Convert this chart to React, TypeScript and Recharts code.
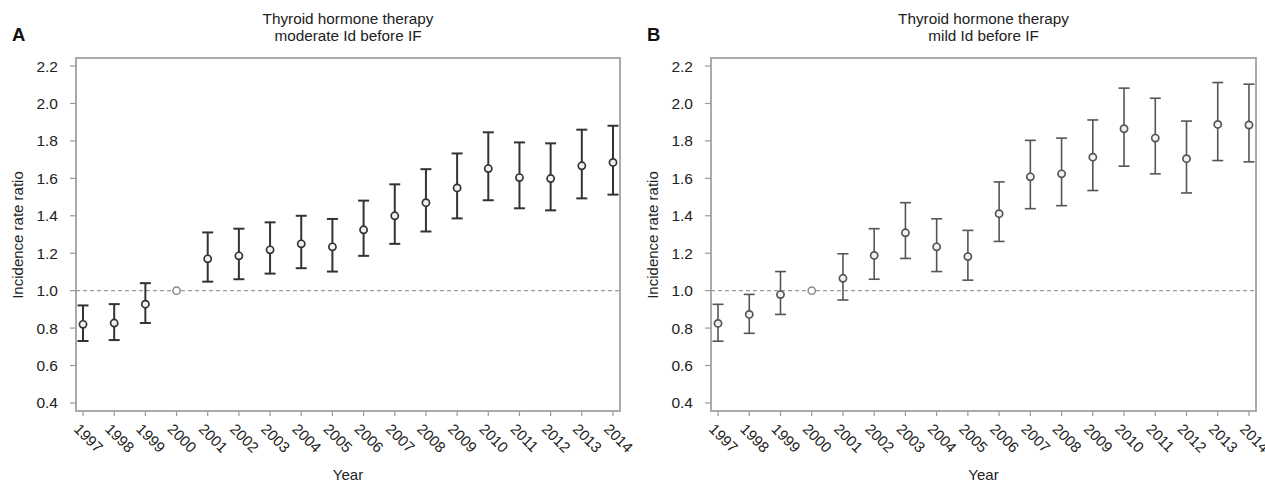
import React from 'react';
import {
  ComposedChart,
  Scatter,
  ErrorBar,
  XAxis,
  YAxis,
  ReferenceLine,
  ReferenceArea,
} from 'recharts';

const years = [1997, 1998, 1999, 2000, 2001, 2002, 2003, 2004, 2005, 2006, 2007, 2008, 2009, 2010, 2011, 2012, 2013, 2014];
const yTicks = [0.4, 0.6, 0.8, 1.0, 1.2, 1.4, 1.6, 1.8, 2.0, 2.2];
const referenceYear = 2000;

const irrA = [0.82, 0.827, 0.928, 1.0, 1.17, 1.186, 1.218, 1.25, 1.234, 1.325, 1.4, 1.47, 1.549, 1.652, 1.604, 1.599, 1.667, 1.685];
const loA = [0.731, 0.736, 0.827, null, 1.048, 1.061, 1.091, 1.12, 1.102, 1.186, 1.25, 1.316, 1.386, 1.483, 1.44, 1.429, 1.493, 1.513];
const hiA = [0.921, 0.928, 1.04, null, 1.311, 1.331, 1.365, 1.4, 1.383, 1.481, 1.568, 1.649, 1.733, 1.846, 1.792, 1.787, 1.86, 1.881];

const irrB = [0.825, 0.873, 0.979, 1.0, 1.066, 1.188, 1.309, 1.234, 1.182, 1.411, 1.608, 1.624, 1.713, 1.865, 1.815, 1.705, 1.888, 1.885];
const loB = [0.73, 0.772, 0.873, null, 0.95, 1.061, 1.172, 1.102, 1.056, 1.263, 1.438, 1.454, 1.535, 1.665, 1.624, 1.522, 1.695, 1.688];
const hiB = [0.927, 0.98, 1.102, null, 1.197, 1.331, 1.47, 1.384, 1.322, 1.581, 1.803, 1.815, 1.912, 2.082, 2.028, 1.906, 2.112, 2.103];

const titleLine1 = 'Thyroid hormone therapy';
const titleA = 'moderate Id before IF';
const titleB = 'mild Id before IF';
const yLabel = 'Incidence rate ratio';
const xLabel = 'Year';

const X_DOMAIN: [number, number] = [1996.775, 2014.225];
const Y_DOMAIN: [number, number] = [0.357, 2.243];
const FONT = '"Liberation Sans", Arial, Helvetica, sans-serif';

function build(irr: number[], lo: (number | null)[], hi: (number | null)[]) {
  const est: any[] = [];
  const ref: any[] = [];
  years.forEach((y, i) => {
    if (y === referenceYear || lo[i] == null || hi[i] == null) {
      ref.push({ year: y, irr: irr[i] });
    } else {
      est.push({ year: y, irr: irr[i], err: [irr[i] - (lo[i] as number), (hi[i] as number) - irr[i]] });
    }
  });
  return { est, ref };
}

const XTick = (props: any) => {
  const { x, y, payload } = props;
  const ax = x - 10;
  const ay = y + 12;
  return (
    <text x={ax} y={ay} transform={`rotate(45, ${ax}, ${ay})`} textAnchor="start" fontSize={15} fill="#222" fontFamily={FONT}>
      {payload.value}
    </text>
  );
};

function Panel(props: {
  left: number;
  width: number;
  marginRight: number;
  irr: number[];
  lo: (number | null)[];
  hi: (number | null)[];
  barColor: string;
  barWidth: number;
  letter: string;
  subtitle: string;
}) {
  const { est, ref } = build(props.irr, props.lo, props.hi);
  const plotLeft = 76;
  const plotRight = props.width - props.marginRight;
  const cx = props.left + (plotLeft + plotRight) / 2;
  const color = props.barColor;
  return (
    <>
      <div style={{ position: 'absolute', left: props.left, top: 0 }}>
        <ComposedChart
          width={props.width}
          height={483}
          margin={{ top: 58, right: props.marginRight, bottom: 0, left: 26 }}
          style={{ fontFamily: FONT, overflow: 'visible' }}
        >
          <XAxis
            type="number"
            dataKey="year"
            domain={X_DOMAIN}
            ticks={years}
            interval={0}
            allowDataOverflow
            height={72}
            axisLine={false}
            tickLine={{ stroke: '#999', strokeWidth: 1.2 }}
            tickSize={5}
            tickMargin={2}
            tick={<XTick />}
          />
          <YAxis
            type="number"
            dataKey="irr"
            domain={Y_DOMAIN}
            ticks={yTicks}
            interval={0}
            allowDataOverflow
            width={50}
            axisLine={false}
            tickLine={{ stroke: '#999', strokeWidth: 1.2 }}
            tickSize={6}
            tickMargin={12}
            tickFormatter={(v: number) => v.toFixed(1)}
            tick={{ fill: '#222', fontSize: 15.5 }}
          />
          <ReferenceArea
            x1={X_DOMAIN[0]}
            x2={X_DOMAIN[1]}
            y1={Y_DOMAIN[0]}
            y2={Y_DOMAIN[1]}
            fill="none"
            stroke="#aaa"
            strokeWidth={2}
            ifOverflow="visible"
          />
          <ReferenceLine y={1} stroke="#999" strokeWidth={1.3} strokeDasharray="4 3" />
          <Scatter
            data={est}
            dataKey="irr"
            isAnimationActive={false}
            shape={(p: any) => (
              <circle cx={p.cx} cy={p.cy} r={3.6} fill="#f2f2f2" stroke={color} strokeWidth={1.7} />
            )}
          >
            <ErrorBar dataKey="err" direction="y" width={5.5} stroke={color} strokeWidth={props.barWidth} isAnimationActive={false} />
          </Scatter>
          <Scatter
            data={ref}
            dataKey="irr"
            isAnimationActive={false}
            shape={(p: any) => (
              <circle cx={p.cx} cy={p.cy} r={3.6} fill="#fff" stroke="#888" strokeWidth={1.5} />
            )}
          />
        </ComposedChart>
      </div>
      <div style={{ position: 'absolute', left: cx - 200, width: 400, top: 10, textAlign: 'center', fontFamily: FONT, fontSize: 15.3, lineHeight: '17px', color: '#222' }}>
        <div>{titleLine1}</div>
        <div>{props.subtitle}</div>
      </div>
      <div style={{ position: 'absolute', left: props.left + 12, top: 24, fontFamily: FONT, fontSize: 18.5, fontWeight: 'bold', color: '#111' }}>
        {props.letter}
      </div>
      <div
        style={{
          position: 'absolute',
          left: props.left + 18 - 100,
          width: 200,
          top: 235 - 9,
          height: 18,
          lineHeight: '18px',
          textAlign: 'center',
          transform: 'rotate(-90deg)',
          fontFamily: FONT,
          fontSize: 15,
          color: '#222',
        }}
      >
        {yLabel}
      </div>
      <div style={{ position: 'absolute', left: cx - 100, width: 200, top: 467, height: 15, textAlign: 'center', fontFamily: FONT, fontSize: 15, color: '#222', lineHeight: '15px' }}>
        {xLabel}
      </div>
    </>
  );
}

export default function App() {
  return (
    <div style={{ position: 'absolute', left: 0, top: 0, width: 1265, height: 483, background: '#fff', overflow: 'hidden' }}>
      <style>{`.recharts-surface{overflow:visible}`}</style>
      <Panel left={0} width={650} marginRight={30} irr={irrA} lo={loA} hi={hiA} barColor="#333" barWidth={2} letter="A" subtitle={titleA} />
      <Panel left={635} width={630} marginRight={9} irr={irrB} lo={loB} hi={hiB} barColor="#555" barWidth={1.6} letter="B" subtitle={titleB} />
    </div>
  );
}
